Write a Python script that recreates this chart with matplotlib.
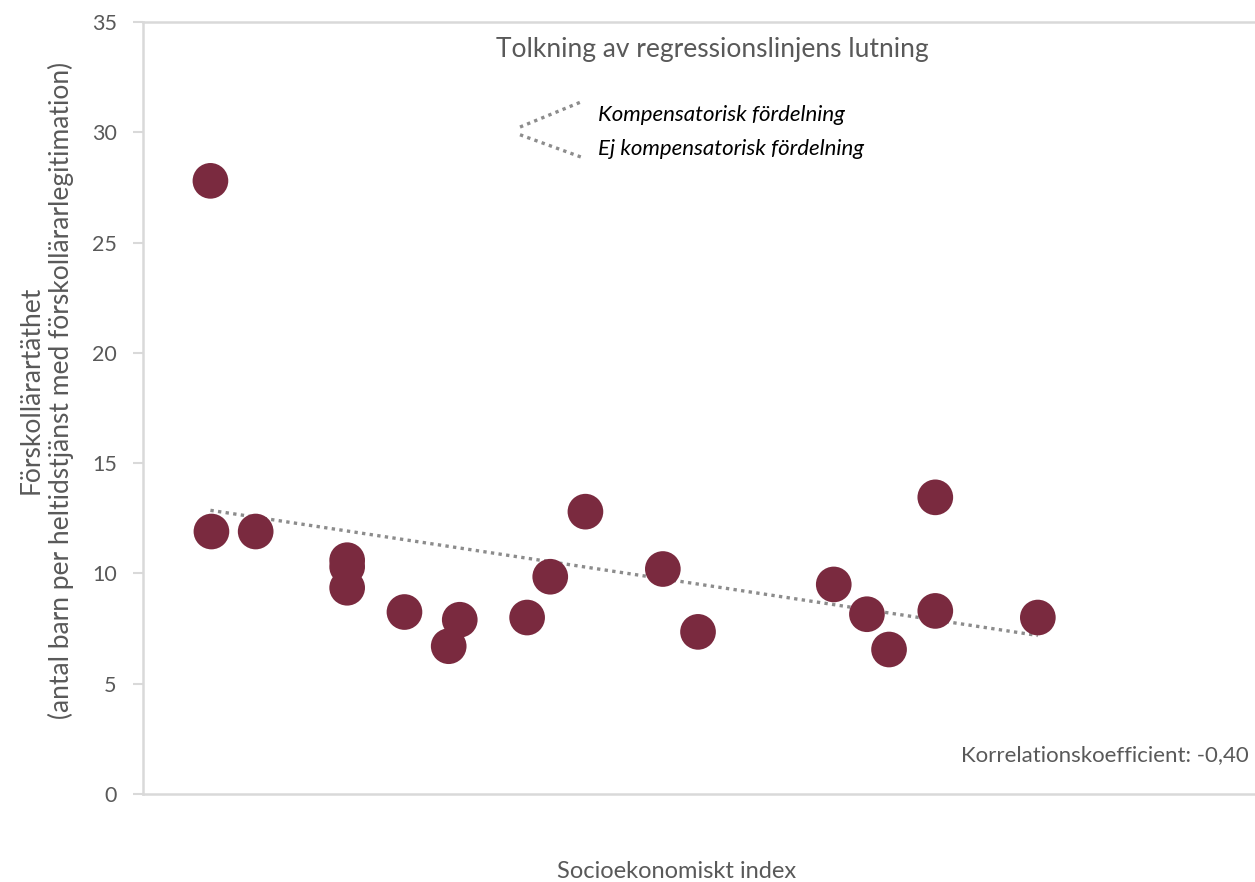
import matplotlib.pyplot as plt
import numpy as np

# Data
socio_index = [6.7, 6.8, 11.2, 20.3, 20.3, 20.3, 26.0, 30.4, 31.5, 38.2,
               40.5, 44.0, 51.7, 55.2, 68.7, 72.0, 74.2, 78.8, 78.8, 89.0]
density = [27.8, 11.9, 11.9, 10.6, 10.3, 9.35, 8.25, 6.7, 7.9, 8.0,
           9.85, 12.8, 10.2, 7.35, 9.5, 8.15, 6.55, 13.45, 8.3, 8.0]
y_ticks = [0, 5, 10, 15, 20, 25, 30, 35]

plt.rcParams['font.family'] = ['Lato', 'DejaVu Sans']
grey_text = '#595959'
spine_col = '#d9d9d9'

fig = plt.figure(figsize=(12.55, 8.82), dpi=100)
ax = fig.add_axes([0.114, 0.0998, 0.886, 0.8752])

# scatter points
ax.scatter(socio_index, density, s=660, color='#7a2a3f', edgecolors='none', zorder=3)

# linear trend line over the data
k, m = np.polyfit(socio_index, density, 1)
xs = np.array([min(socio_index), max(socio_index)])
ax.plot(xs, k * xs + m, color='#8c8c8c', linewidth=2.4,
        linestyle=(0, (1, 1.3)), zorder=2)

ax.set_xlim(0, 110.6)
ax.set_ylim(0, 35)
ax.set_yticks(y_ticks)
ax.set_xticks([])
ax.tick_params(axis='y', colors=spine_col, labelcolor=grey_text,
               labelsize=15.5, length=7, width=1.5, pad=12)

for side in ['left', 'bottom', 'top']:
    ax.spines[side].set_color(spine_col)
    ax.spines[side].set_linewidth(1.8)
ax.spines['right'].set_visible(False)

# explanation box at the top
ax.text(0.512, 0.965, 'Tolkning av regressionslinjens lutning', transform=ax.transAxes,
        ha='center', va='center', fontsize=19, color=grey_text)
ax.plot([0.339, 0.393], [0.864, 0.896], transform=ax.transAxes, color='#8c8c8c',
        linewidth=2.4, linestyle=(0, (1, 1.3)))
ax.plot([0.339, 0.396], [0.854, 0.824], transform=ax.transAxes, color='#8c8c8c',
        linewidth=2.4, linestyle=(0, (1, 1.3)))
ax.text(0.409, 0.880, 'Kompensatorisk fördelning', transform=ax.transAxes,
        ha='left', va='center', fontsize=16, style='italic', color='black')
ax.text(0.409, 0.835, 'Ej kompensatorisk fördelning', transform=ax.transAxes,
        ha='left', va='center', fontsize=16, style='italic', color='black')

ax.text(0.994, 0.05, 'Korrelationskoefficient: -0,40', transform=ax.transAxes,
        ha='right', va='center', fontsize=16, color=grey_text)

# axis titles
fig.text(677 / 1255, 1 - 872 / 882, 'Socioekonomiskt index', ha='center', va='center',
         fontsize=17, color=grey_text)
fig.text(46 / 1255, 1 - 390 / 882,
         'Förskollärartäthet\n(antal barn per heltidstjänst med förskollärarlegitimation)',
         ha='center', va='center', rotation=90, multialignment='center',
         fontsize=19, color=grey_text, linespacing=1.2)

fig.savefig('out.png', dpi=100)
